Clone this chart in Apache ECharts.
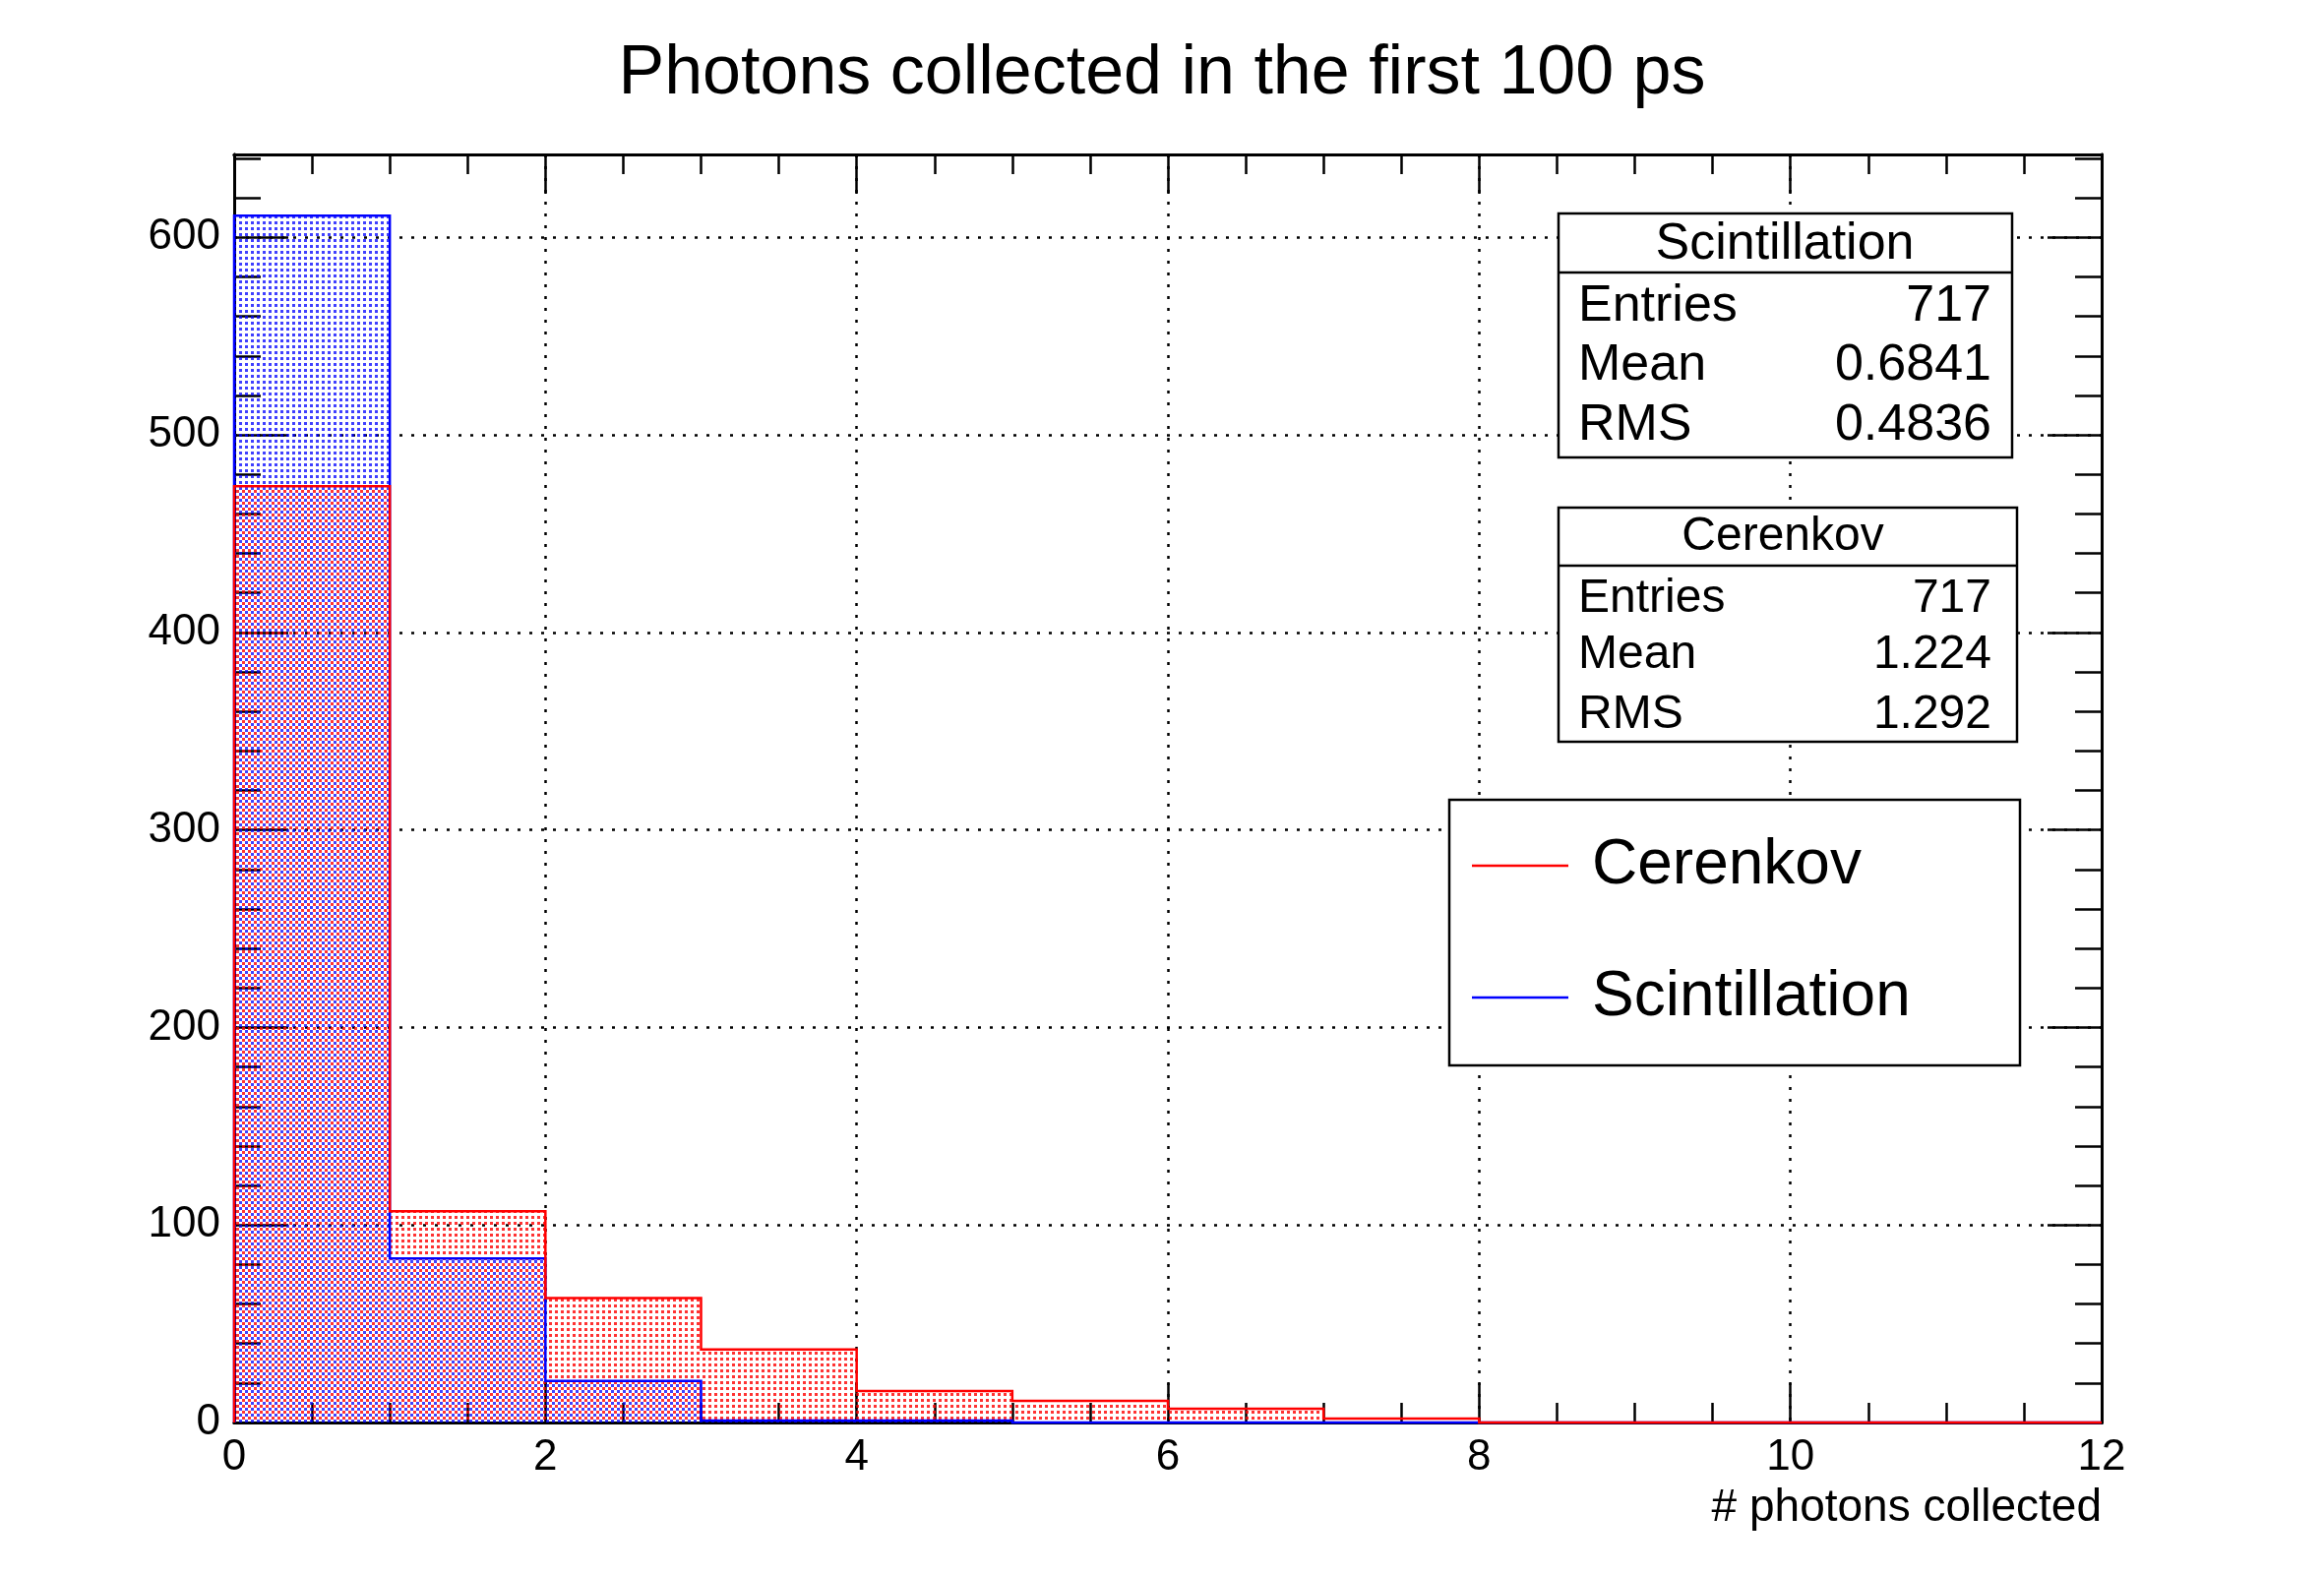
<!DOCTYPE html><html><head><meta charset="utf-8">
<script src="https://cdn.jsdelivr.net/npm/echarts@6/dist/echarts.min.js"></script>
<style>html,body{margin:0;background:#fff}#c{width:2362px;height:1600px}</style></head><body><div id="c"></div>
<script>
const binEdges=[0,1,2,3,4,5,6,7,8,9,10,11,12];
const cerenkov=[474,107,63,37,16,11,7,2,0,0,0,0];
const scint=[611,83,21,1,1,0,0,0,0,0,0,0];
const xTicks=[0,2,4,6,8,10,12];
const yTicks=[0,100,200,300,400,500,600];

function pat(col,off){const c=document.createElement('canvas');c.width=6;c.height=6;const g=c.getContext('2d');g.fillStyle=col;g.fillRect(off,off,3,3);return c;}
const pR=pat('rgba(255,0,0,0.8)',0), pB=pat('rgba(0,0,255,0.75)',3);

function fillSeries(vals,p){
 return {type:'custom',silent:true,clip:true,data:vals.map((v,i)=>[i,v]),
  renderItem:(params,api)=>{const i=api.value(0),v=api.value(1);if(v<=0)return null;
   const a=api.coord([binEdges[i],v]),b=api.coord([binEdges[i+1],0]);
   return {type:'group',children:[
    {type:'rect',shape:{x:a[0],y:a[1],width:b[0]-a[0],height:b[1]-a[1]},style:{fill:'rgba(255,255,255,0)'}},
    {type:'rect',shape:{x:a[0],y:a[1],width:b[0]-a[0],height:b[1]-a[1]},style:{fill:{image:p,repeat:'repeat'}}}]};}};
}
function lineSeries(vals,color){
 return {type:'custom',silent:true,clip:false,data:[[0,0]],
  renderItem:(params,api)=>{const pts=[api.coord([0,0])];for(let i=0;i<vals.length;i++){pts.push(api.coord([binEdges[i],vals[i]]));pts.push(api.coord([binEdges[i+1],vals[i]]));}
   return {type:'polyline',shape:{points:pts},style:{stroke:color,lineWidth:2.5,fill:null}};}};
}
const F='Liberation Sans, Arial, sans-serif';
const line={show:true,onZero:false,lineStyle:{color:'#000',width:3}};
const tk=(len)=>({show:true,inside:true,length:len,lineStyle:{color:'#000',width:2.5}});
function xa(pos,interval,len,labels,grid){return {type:'value',min:0,max:12,interval,position:pos,axisLine:line,axisTick:tk(len),
 axisLabel:labels?{fontFamily:F,fontSize:44,color:'#000',margin:14}:{show:false},
 splitLine:grid?{show:true,lineStyle:{color:'#000',type:[3,9],width:2.5}}:{show:false},minorTick:{show:false}};}
function ya(pos,interval,len,labels,grid){return {type:'value',min:0,max:642,interval,position:pos,axisLine:line,axisTick:tk(len),
 axisLabel:labels?{fontFamily:F,fontSize:44,color:'#000',margin:14,showMaxLabel:false}:{show:false},
 splitLine:grid?{show:true,lineStyle:{color:'#000',type:[3,9],width:2.5}}:{show:false},minorTick:{show:false}};}
const xAxes=[xa('bottom',2,40,true,true),xa('top',2,40,false,false),xa('bottom',0.5,20,false,false),xa('top',0.5,20,false,false)];
xAxes[0].name='# photons collected';xAxes[0].nameLocation='end';xAxes[0].nameGap=0;
xAxes[0].nameTextStyle={fontFamily:F,fontSize:46,color:'#000',align:'right',verticalAlign:'top',padding:[64,0,0,0]};
const yAxes=[ya('left',100,55,true,true),ya('right',100,55,false,false),ya('left',20,27,false,false),ya('right',20,27,false,false)];
const chart=echarts.init(document.getElementById('c'));
chart.setOption({animation:false,
 title:{text:'Photons collected in the first 100 ps',left:'center',top:36,textStyle:{fontFamily:F,fontSize:70,fontWeight:'normal',color:'#000'}},
 grid:{left:238,right:226,top:157,bottom:154},
 xAxis:xAxes,yAxis:yAxes,
 series:[fillSeries(scint,pB),fillSeries(cerenkov,pR),lineSeries(scint,'#0000ff'),lineSeries(cerenkov,'#ff0000')],
 graphic:[
  {type:'rect',shape:{x:1584,y:217,width:461,height:248},style:{fill:'#fff',stroke:'#000',lineWidth:2.5},z:100},
  {type:'line',shape:{x1:1584,y1:277,x2:2045,y2:277},style:{stroke:'#000',lineWidth:2.5},z:100},
  {type:'text',x:1814,y:249,style:{text:'Scintillation',font:'52px '+F,textAlign:'center',textVerticalAlign:'middle',fill:'#000'},z:101},
  ...[['Entries','717',312],['Mean','0.6841',372],['RMS','0.4836',433]].flatMap(r=>[
   {type:'text',x:1604,y:r[2],style:{text:r[0],font:'52px '+F,textVerticalAlign:'middle',fill:'#000'},z:101},
   {type:'text',x:2024,y:r[2],style:{text:r[1],font:'52px '+F,textAlign:'right',textVerticalAlign:'middle',fill:'#000'},z:101}]),
  {type:'rect',shape:{x:1584,y:516,width:466,height:238},style:{fill:'#fff',stroke:'#000',lineWidth:2.5},z:100},
  {type:'line',shape:{x1:1584,y1:575,x2:2050,y2:575},style:{stroke:'#000',lineWidth:2.5},z:100},
  {type:'text',x:1812,y:546,style:{text:'Cerenkov',font:'48px '+F,textAlign:'center',textVerticalAlign:'middle',fill:'#000'},z:101},
  ...[['Entries','717',609],['Mean','1.224',666],['RMS','1.292',727]].flatMap(r=>[
   {type:'text',x:1604,y:r[2],style:{text:r[0],font:'48px '+F,textVerticalAlign:'middle',fill:'#000'},z:101},
   {type:'text',x:2024,y:r[2],style:{text:r[1],font:'48px '+F,textAlign:'right',textVerticalAlign:'middle',fill:'#000'},z:101}]),
  {type:'rect',shape:{x:1473,y:813,width:580,height:270},style:{fill:'#fff',stroke:'#000',lineWidth:2.5},z:100},
  {type:'line',shape:{x1:1496,y1:880,x2:1594,y2:880},style:{stroke:'#ff0000',lineWidth:2.5},z:101},
  {type:'text',x:1618,y:880,style:{text:'Cerenkov',font:'64px '+F,textVerticalAlign:'middle',fill:'#000'},z:101},
  {type:'line',shape:{x1:1496,y1:1014,x2:1594,y2:1014},style:{stroke:'#0000ff',lineWidth:2.5},z:101},
  {type:'text',x:1618,y:1014,style:{text:'Scintillation',font:'64px '+F,textVerticalAlign:'middle',fill:'#000'},z:101}
 ]});
</script></body></html>
